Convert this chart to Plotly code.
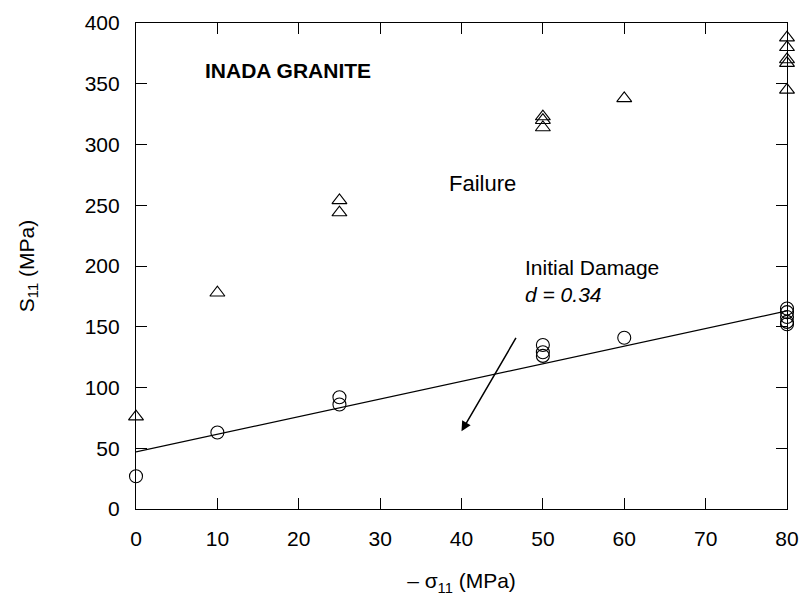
import plotly.graph_objects as go

# Failure strength (triangles)
fail_x = [0, 10, 25, 25, 50, 50, 50, 60, 80, 80, 80, 80, 80]
fail_y = [76, 178, 254, 244, 323, 320, 314, 338, 388, 380, 370, 367, 345]

# Initial damage stress (circles)
dmg_x = [0, 10, 25, 25, 50, 50, 50, 60, 80, 80, 80, 80, 80]
dmg_y = [27, 63, 92, 86, 135, 129, 126, 141, 165, 162, 158, 154, 152]

# Fitted line for initial damage
fit_x = [0, 80]
fit_y = [47, 163]

x_ticks = [0, 10, 20, 30, 40, 50, 60, 70, 80]
y_ticks = [0, 50, 100, 150, 200, 250, 300, 350, 400]

FONT = "Liberation Sans, Arial, sans-serif"
FS = 21      # tick labels and axis titles
FA = 22      # in-plot labels

fig = go.Figure()
fig.add_trace(go.Scatter(x=fit_x, y=fit_y, mode="lines",
                         line=dict(color="black", width=1.2), showlegend=False))
fig.add_trace(go.Scatter(x=fail_x, y=fail_y, mode="markers",
                         marker=dict(symbol="triangle-up-open", size=13,
                                     color="black", line=dict(width=1.1)),
                         showlegend=False, cliponaxis=False))
fig.add_trace(go.Scatter(x=dmg_x, y=dmg_y, mode="markers",
                         marker=dict(symbol="circle-open", size=13,
                                     color="black", line=dict(width=1.1)),
                         showlegend=False, cliponaxis=False))

fig.add_annotation(x=8.2, y=361, text="<b>INADA GRANITE</b>", showarrow=False,
                   xanchor="left", yanchor="middle", font=dict(size=FS))
fig.add_annotation(x=38.2, y=268, text="Failure", showarrow=False,
                   xanchor="left", yanchor="middle", font=dict(size=FA))
fig.add_annotation(x=47.5, y=188, text="Initial Damage<br><i>d = 0.34</i>",
                   showarrow=False, xanchor="left", yanchor="middle",
                   align="left", font=dict(size=FS))
fig.add_annotation(x=40, y=64, ax=46.8, ay=142, xref="x", yref="y",
                   axref="x", ayref="y", text="", showarrow=True,
                   arrowhead=2, arrowsize=1.3, arrowwidth=1.5, arrowcolor="black")

axis_common = dict(showgrid=False, zeroline=False, showline=True, linecolor="black",
                   linewidth=1.2, mirror="ticks", ticks="inside", ticklen=11,
                   tickwidth=1.2, tickcolor="black", ticklabelstandoff=11,
                   tickfont=dict(size=FS, color="black", family=FONT))

fig.update_xaxes(range=[0, 80], tickvals=x_ticks, **axis_common,
                 title=dict(text="– σ<sub>11</sub> (MPa)", standoff=24,
                            font=dict(size=FS, family=FONT)))
fig.update_yaxes(range=[0, 400], tickvals=y_ticks, **axis_common,
                 title=dict(text="S<sub>11</sub> (MPa)", standoff=44,
                            font=dict(size=FS, family=FONT)))

fig.update_layout(width=810, height=600, margin=dict(l=136, r=11, t=21, b=90),
                  paper_bgcolor="white", plot_bgcolor="white",
                  font=dict(family=FONT, color="black", size=FS))

fig.write_html("out.html")
